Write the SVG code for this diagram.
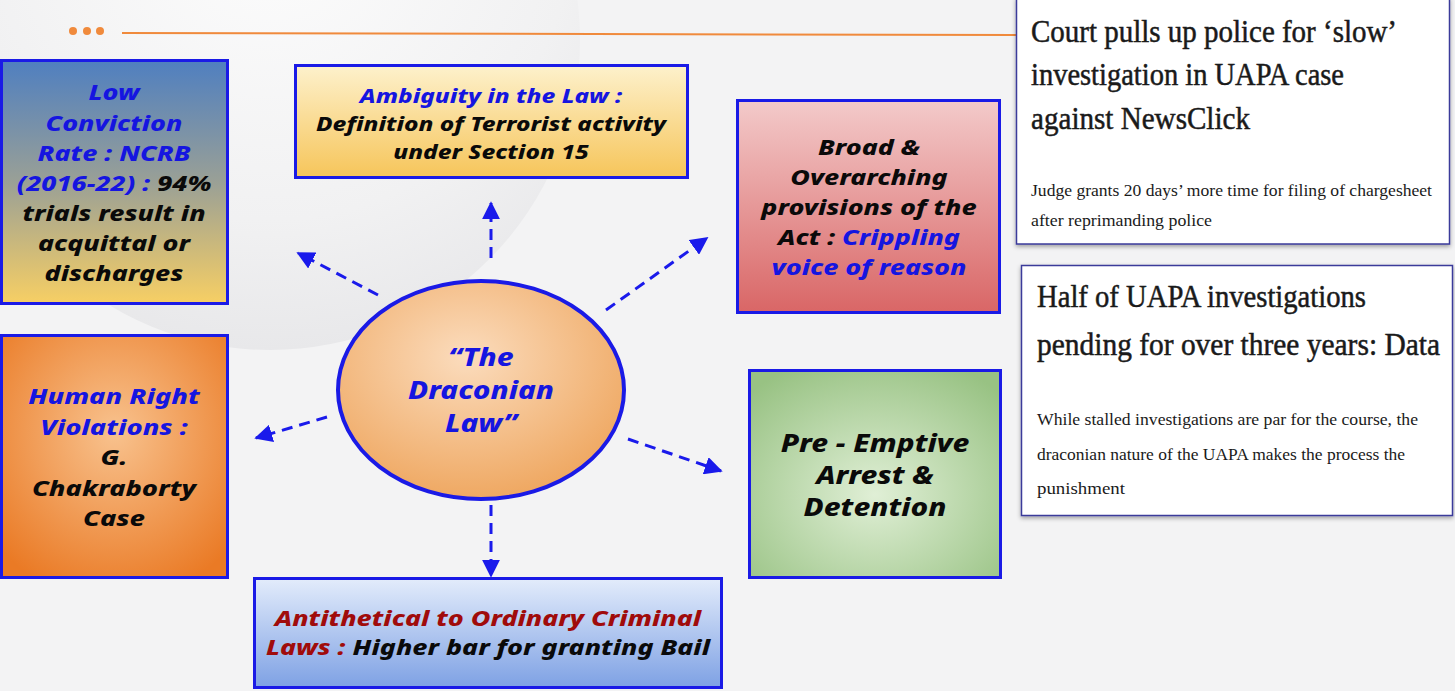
<svg xmlns="http://www.w3.org/2000/svg" width="1455" height="691" viewBox="0 0 1455 691">
<defs>
<radialGradient id="bgc" cx="0.5" cy="0.3" r="0.7"><stop offset="0" stop-color="#fdfdfd"/><stop offset="0.7" stop-color="#f1f1f2"/><stop offset="1" stop-color="#e8e8ea"/></radialGradient>
<linearGradient id="gLow" x1="0" y1="0" x2="0" y2="1"><stop offset="0" stop-color="#4f7fc0"/><stop offset="0.5" stop-color="#9aa096"/><stop offset="1" stop-color="#f7cf64"/></linearGradient>
<linearGradient id="gAmb" x1="0" y1="0" x2="0" y2="1"><stop offset="0" stop-color="#fdf1cc"/><stop offset="1" stop-color="#f6c55a"/></linearGradient>
<linearGradient id="gBroad" x1="0" y1="0" x2="0" y2="1"><stop offset="0" stop-color="#f3caca"/><stop offset="1" stop-color="#d96666"/></linearGradient>
<radialGradient id="gHum" cx="0.5" cy="0.4" r="0.7"><stop offset="0" stop-color="#f8c28e"/><stop offset="1" stop-color="#ea7a25"/></radialGradient>
<radialGradient id="gEll" cx="0.45" cy="0.35" r="0.65"><stop offset="0" stop-color="#fbdcbd"/><stop offset="1" stop-color="#efa862"/></radialGradient>
<radialGradient id="gPre" cx="0.5" cy="0.6" r="0.7"><stop offset="0" stop-color="#e0efd6"/><stop offset="1" stop-color="#98c283"/></radialGradient>
<linearGradient id="gAnti" x1="0" y1="0" x2="0" y2="1"><stop offset="0" stop-color="#e3ecfb"/><stop offset="1" stop-color="#7ea1e4"/></linearGradient>
<filter id="sh" x="-5%" y="-5%" width="110%" height="115%"><feDropShadow dx="0" dy="2" stdDeviation="2" flood-color="#000" flood-opacity="0.35"/></filter>
<marker id="ah" viewBox="0 0 10 10" refX="9" refY="5" markerWidth="6" markerHeight="6" markerUnits="strokeWidth" orient="auto"><path d="M0,0 L10,5 L0,10 z" fill="#1a1aeb"/></marker>
</defs>
<style>
.box{stroke:#1a1ae6;stroke-width:3}
.t{font-family:"Noto Sans","Open Sans",sans-serif;font-weight:800;font-style:italic;text-anchor:middle}
.b{fill:#1515e0}
.k{fill:#0a0a0a}
.r{fill:#a00b0b}
.conn{stroke:#1a1aeb;stroke-width:3;stroke-dasharray:11 7;fill:none}
.news{font-family:"Liberation Serif","DejaVu Serif",serif;fill:#1a1a1a}
.nt{stroke:#1a1a1a;stroke-width:0.5}
</style>
<rect x="0" y="0" width="1455" height="691" fill="#f3f3f4"/>
<circle cx="270" cy="40" r="310" fill="url(#bgc)"/>
<g id="header">
<circle cx="73" cy="31" r="4" fill="#f08a3c"/>
<circle cx="87" cy="31" r="4" fill="#f08a3c"/>
<circle cx="100" cy="31" r="4" fill="#f08a3c"/>
<line x1="122" y1="33" x2="1018" y2="35" stroke="#f08a3c" stroke-width="2"/>
</g>
<g id="connectors">
<line class="conn" x1="491" y1="258" x2="491" y2="203" marker-end="url(#ah)"/>
<line class="conn" x1="378" y1="295" x2="298" y2="253" marker-end="url(#ah)"/>
<line class="conn" x1="606" y1="310" x2="707" y2="238" marker-end="url(#ah)"/>
<line class="conn" x1="327" y1="417" x2="256" y2="438" marker-end="url(#ah)"/>
<line class="conn" x1="628" y1="439" x2="721" y2="471" marker-end="url(#ah)"/>
<line class="conn" x1="491" y1="505" x2="491" y2="576" marker-end="url(#ah)"/>
</g>
<g id="node-low">
<rect class="box" x="1.5" y="60.5" width="226" height="243" fill="url(#gLow)"/>
<g transform="translate(114,0) scale(1.22,1) translate(-114,0)">
<text class="t" font-size="22"><tspan class="b" x="114" y="100">Low</tspan><tspan class="b" x="114" y="131">Conviction</tspan><tspan class="b" x="114" y="161">Rate : NCRB</tspan><tspan x="114" y="191"><tspan class="b">(2016-22) :</tspan><tspan class="k"> 94%</tspan></tspan><tspan class="k" x="114" y="221">trials result in</tspan><tspan class="k" x="114" y="251">acquittal or</tspan><tspan class="k" x="114" y="281">discharges</tspan></text>
</g>
</g>
<g id="node-ambiguity">
<rect class="box" x="295.5" y="65.5" width="392" height="112" fill="url(#gAmb)"/>
<g transform="translate(491,0) scale(1.22,1) translate(-491,0)">
<text class="t" font-size="20"><tspan class="b" x="491" y="103">Ambiguity in the Law :</tspan><tspan class="k" x="491" y="131">Definition of Terrorist activity</tspan><tspan class="k" x="491" y="159">under Section 15</tspan></text>
</g>
</g>
<g id="node-broad">
<rect class="box" x="737.5" y="100.5" width="262" height="212" fill="url(#gBroad)"/>
<g transform="translate(869,0) scale(1.22,1) translate(-869,0)">
<text class="t" font-size="22"><tspan class="k" x="869" y="155">Broad &amp;</tspan><tspan class="k" x="869" y="185">Overarching</tspan><tspan class="k" x="869" y="215">provisions of the</tspan><tspan x="869" y="245"><tspan class="k">Act :</tspan><tspan class="b"> Crippling</tspan></tspan><tspan class="b" x="869" y="275">voice of reason</tspan></text>
</g>
</g>
<g id="node-human">
<rect class="box" x="1.5" y="335.5" width="226" height="242" fill="url(#gHum)"/>
<g transform="translate(114,0) scale(1.24,1) translate(-114,0)">
<text class="t" font-size="22"><tspan class="b" x="114" y="404">Human Right</tspan><tspan class="b" x="114" y="435">Violations :</tspan><tspan class="k" x="114" y="465">G.</tspan><tspan class="k" x="114" y="496">Chakraborty</tspan><tspan class="k" x="114" y="526">Case</tspan></text>
</g>
</g>
<g id="node-center">
<ellipse cx="481" cy="390" rx="143" ry="109" fill="url(#gEll)" stroke="#1a1ae6" stroke-width="4"/>
<g transform="translate(481,0) scale(1.24,1) translate(-481,0)">
<text class="t b" font-size="24"><tspan x="481" y="366">“The</tspan><tspan x="481" y="399">Draconian</tspan><tspan x="481" y="432">Law”</tspan></text>
</g>
</g>
<g id="node-pre">
<rect class="box" x="749.5" y="370.5" width="251" height="207" fill="url(#gPre)"/>
<g transform="translate(875,0) scale(1.24,1) translate(-875,0)">
<text class="t k" font-size="24"><tspan x="875" y="452">Pre - Emptive</tspan><tspan x="875" y="484">Arrest &amp;</tspan><tspan x="875" y="516">Detention</tspan></text>
</g>
</g>
<g id="node-anti">
<rect class="box" x="254.5" y="578.5" width="467" height="109" fill="url(#gAnti)"/>
<g transform="translate(488,0) scale(1.22,1) translate(-488,0)">
<text class="t" font-size="22"><tspan class="r" x="488" y="626">Antithetical to Ordinary Criminal</tspan><tspan x="488" y="655"><tspan class="r">Laws :</tspan><tspan class="k"> Higher bar for granting Bail</tspan></tspan></text>
</g>
</g>
<g id="news-1">
<rect x="1016.5" y="-2" width="433" height="246" fill="#ffffff" stroke="#3b3b9a" stroke-width="1.5" filter="url(#sh)"/>
<text class="news nt" font-size="31"><tspan x="1031" y="42" textLength="366" lengthAdjust="spacingAndGlyphs">Court pulls up police for ‘slow’</tspan><tspan x="1031" y="85" textLength="313" lengthAdjust="spacingAndGlyphs">investigation in UAPA case</tspan><tspan x="1031" y="129" textLength="219" lengthAdjust="spacingAndGlyphs">against NewsClick</tspan></text>
<text class="news" font-size="17"><tspan x="1031" y="196" textLength="401" lengthAdjust="spacingAndGlyphs">Judge grants 20 days’ more time for filing of chargesheet</tspan><tspan x="1031" y="226" textLength="181" lengthAdjust="spacingAndGlyphs">after reprimanding police</tspan></text>
</g>
<g id="news-2">
<rect x="1021.5" y="265.5" width="431" height="250" fill="#ffffff" stroke="#3b3b9a" stroke-width="1.5" filter="url(#sh)"/>
<text class="news nt" font-size="31"><tspan x="1037" y="307" textLength="329" lengthAdjust="spacingAndGlyphs">Half of UAPA investigations</tspan><tspan x="1037" y="355" textLength="403" lengthAdjust="spacingAndGlyphs">pending for over three years: Data</tspan></text>
<text class="news" font-size="17"><tspan x="1037" y="425" textLength="381" lengthAdjust="spacingAndGlyphs">While stalled investigations are par for the course, the</tspan><tspan x="1037" y="460" textLength="368" lengthAdjust="spacingAndGlyphs">draconian nature of the UAPA makes the process the</tspan><tspan x="1037" y="494" textLength="88" lengthAdjust="spacingAndGlyphs">punishment</tspan></text>
</g>
</svg>
